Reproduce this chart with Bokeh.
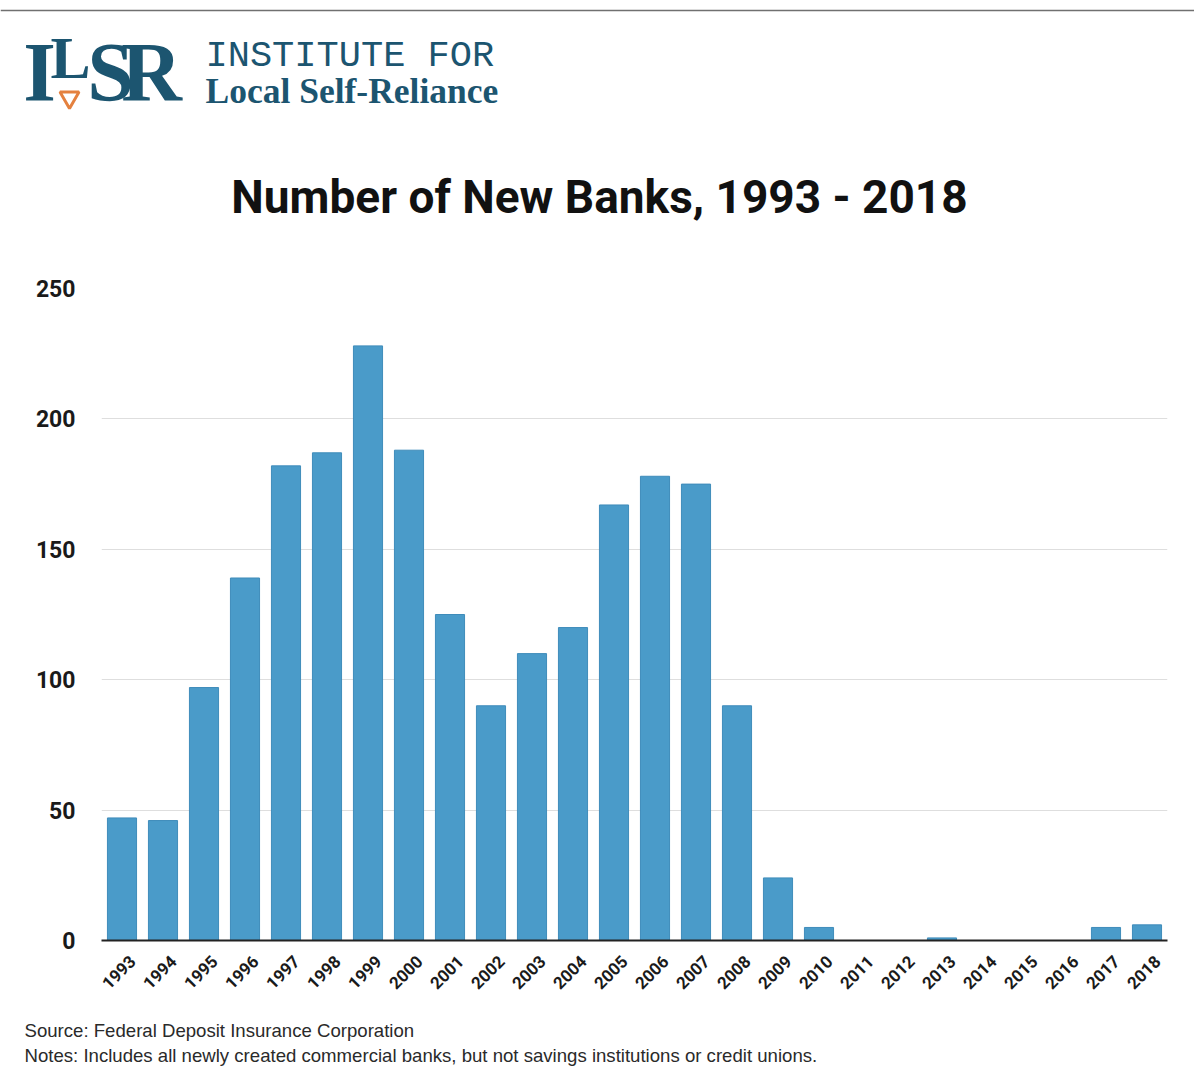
import math
from bokeh.plotting import figure
from bokeh.models import Range1d, FixedTicker, LinearAxis
from bokeh.layouts import column
from bokeh.core.properties import value
from bokeh.embed import file_html
from bokeh.resources import INLINE

# ---- data ----
years = [str(y) for y in range(1993, 2019)]
new_banks = [47, 46, 97, 139, 182, 187, 228, 188, 125, 90, 110, 120, 167, 178,
             175, 90, 24, 5, 0, 0, 1, 0, 0, 0, 5, 6]
y_ticks = [0, 50, 100, 150, 200, 250]
grid_ticks = [50, 100, 150, 200]

title_text = "Number of New Banks, 1993 - 2018"
source_text = "Source: Federal Deposit Insurance Corporation"
notes_text = "Notes: Includes all newly created commercial banks, but not savings institutions or credit unions."

W = 1194
HEAD_B = 268          # page y where the chart figure starts
CHART_B = 1000        # page y where the footer starts
PAGE_B = 1066
FL, FR, FT, FB = 101, 1167, 288, 940   # chart frame box in page pixels
TEAL = "#1c5570"
BAR = "#4a9bc9"
SANS_B = "Roboto"

# vertical centre offsets (fraction of font size between baseline and em-box middle)
MID = {"Liberation Serif": 0.3375, "Liberation Mono": 0.2665, "Liberation Sans": 0.3465,
       "Roboto": 0.342, "DejaVu Sans": 0.346}


def panel(y0, y1):
    f = figure(width=W, height=y1 - y0, x_range=Range1d(0, W), y_range=Range1d(y1, y0),
               toolbar_location=None, output_backend="svg", min_border=0, frame_align=False)
    f.axis.visible = False
    f.grid.visible = False
    f.outline_line_color = None
    f.background_fill_color = "white"
    f.border_fill_color = "white"
    return f


def txt(f, X, baseline_y, text, font, size, color, style="normal", align="left"):
    y = baseline_y - MID[font] * size
    f.text(x=[X], y=[y], text=[text], text_font=value(font), text_font_size=f"{size}px",
           text_font_style=style, text_color=color, text_align=align, text_baseline="middle")

# ---- header ----
head = panel(0, HEAD_B)
head.segment(x0=[0], y0=[10], x1=[W], y1=[10], line_color="#707070", line_width=1.5)
txt(head, 39, 100, "I", "Liberation Serif", 84, TEAL, "bold", "center")
txt(head, 70, 78, "L", "Liberation Serif", 60, TEAL, "bold", "center")
head.scatter(x=[69], y=[97], marker="inverted_triangle", size=19, fill_color="white",
             line_color="#e4813f", line_width=3)
txt(head, 110, 100, "S", "Liberation Serif", 84, TEAL, "bold", "center")
txt(head, 151, 100, "R", "Liberation Serif", 84, TEAL, "bold", "center")
txt(head, 205, 65, "INSTITUTE FOR", "Liberation Mono", 37, TEAL)
txt(head, 205, 102, "Local Self-Reliance", "Liberation Serif", 35.5, TEAL, "bold")
txt(head, 599, 212, title_text, SANS_B, 46, "#111111", "bold", "center")

# ---- chart ----
idx = list(range(len(years)))   # category slot of each year

p = figure(width=W, height=CHART_B - HEAD_B, x_range=Range1d(-0.5, len(years) - 0.5),
           y_range=Range1d(0, 250), toolbar_location=None, output_backend="svg",
           min_border_left=FL, min_border_right=W - FR,
           min_border_top=FT - HEAD_B, min_border_bottom=CHART_B - FB, frame_align=False)
p.vbar(x=idx, top=new_banks, width=0.71, fill_color=BAR, line_color="#3f8cba", line_width=1)
p.outline_line_color = None
p.background_fill_color = "white"
p.border_fill_color = "white"
p.xgrid.visible = False
p.ygrid.ticker = FixedTicker(ticks=grid_ticks)
p.ygrid.grid_line_color = "#dedede"
p.ygrid.grid_line_width = 1

p.yaxis.ticker = FixedTicker(ticks=y_ticks)
p.yaxis.axis_line_color = None
p.yaxis.major_tick_line_color = None
p.yaxis.minor_tick_line_color = None
p.yaxis.major_tick_out = 0
p.yaxis.major_label_standoff = 26
p.yaxis.major_label_text_font = SANS_B
p.yaxis.major_label_text_font_style = "bold"
p.yaxis.major_label_text_font_size = "23px"
p.yaxis.major_label_text_color = "#1a1a1a"

# main x axis: baseline only
p.xaxis.ticker = FixedTicker(ticks=[])
p.xaxis.axis_line_color = "#222222"
p.xaxis.axis_line_width = 2
p.xaxis.major_tick_line_color = None
p.xaxis.minor_tick_line_color = None
p.xaxis.major_tick_out = 0
p.xaxis.major_label_text_font_size = "0px"
p.xaxis.major_label_standoff = 0

# year label axis on a slightly shifted range (labels sit a bit right of bar centres)
shift = 0.26
p.extra_x_ranges = {"lab": Range1d(-0.5 - shift, len(years) - 0.5 - shift)}
lab_axis = LinearAxis(x_range_name="lab", ticker=FixedTicker(ticks=idx),
                      major_label_overrides={i: y for i, y in zip(idx, years)})
lab_axis.axis_line_color = None
lab_axis.major_tick_line_color = None
lab_axis.minor_tick_line_color = None
lab_axis.major_tick_out = 0
lab_axis.major_label_orientation = math.pi / 4
lab_axis.major_label_standoff = 18
lab_axis.major_label_text_font = SANS_B
lab_axis.major_label_text_font_style = "bold"
lab_axis.major_label_text_font_size = "17px"
lab_axis.major_label_text_color = "#1a1a1a"
p.add_layout(lab_axis, "below")

# ---- footer ----
foot = panel(CHART_B, PAGE_B)
txt(foot, 24, 1036, source_text, "Liberation Sans", 18.6, "#2a2a2a")
txt(foot, 24, 1061, notes_text, "Liberation Sans", 18.6, "#2a2a2a")

layout = column(head, p, foot, spacing=0)
open("out.html", "w").write(file_html(layout, INLINE))
